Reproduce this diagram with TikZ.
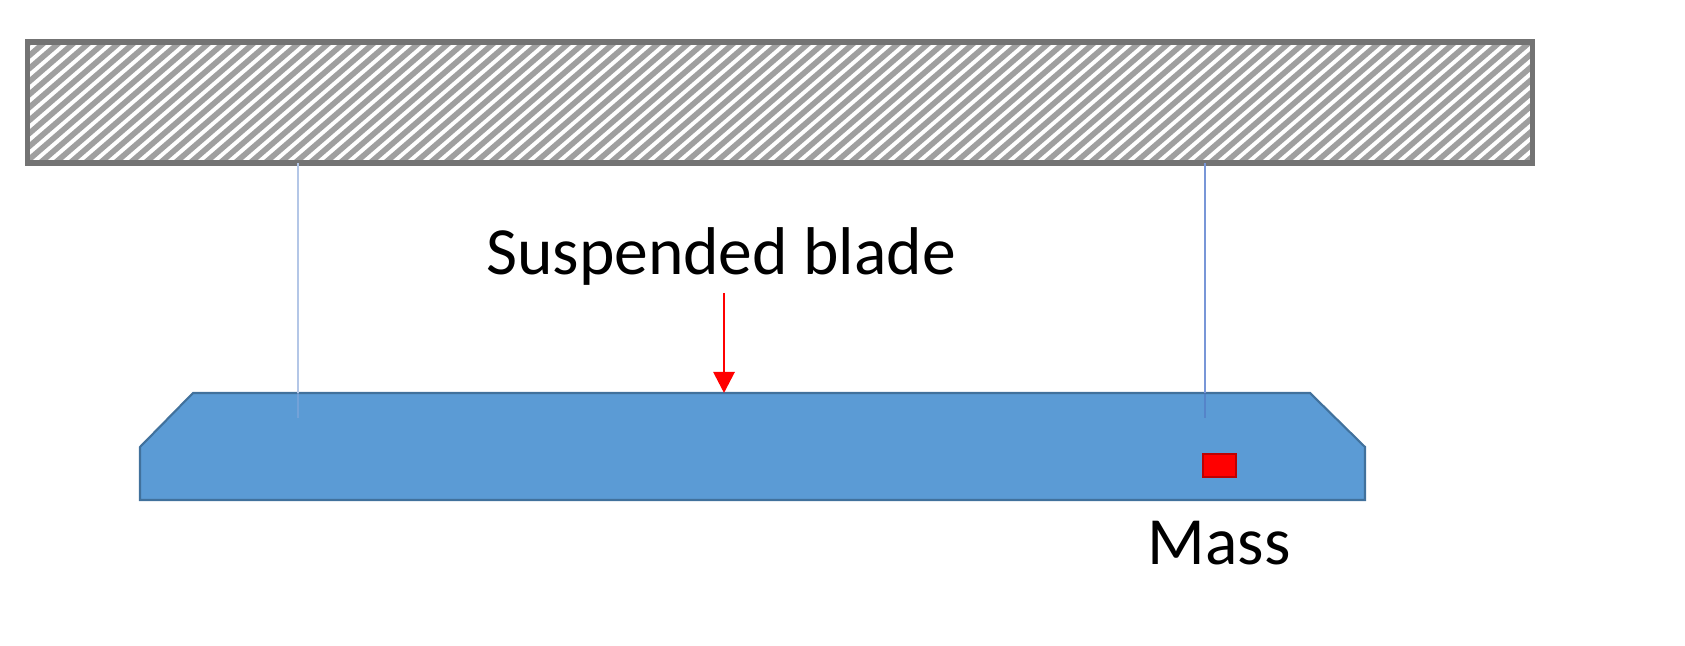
\documentclass[tikz,border=0pt]{standalone}
\usepackage{fontspec}
\setmainfont{Carlito}
\usetikzlibrary{arrows.meta}
\begin{document}
\begin{tikzpicture}[x=0.01cm,y=-0.01cm,
  wire/.style={line width=0.8pt},
  lbl/.style={font=\fontsize{19.2}{22}\selectfont,text=black}]
\useasboundingbox (0,0) rectangle (1685,646);
% ceiling
\begin{scope}
\clip (28,42) rectangle (1532,163);
\foreach \i in {0,...,115}{
  \draw[gray!75,line width=1.6pt] ({\i*15-140},163) -- ({\i*15},42);
}
\end{scope}
\node[draw=gray!110,line width=1.5pt,minimum width=15.04cm,minimum height=1.21cm,inner sep=0] (ceil) at (780,102.5) {};
% blade
\fill[fill={rgb,255:red,91;green,155;blue,213},draw={rgb,255:red,65;green,113;blue,156},line width=0.6pt]
 (193,393) -- (1310,393) -- (1365,447) -- (1365,500) -- (140,500) -- (140,447) -- cycle;
\coordinate (bl) at (298,418);
\coordinate (br) at (1205,418);
\coordinate (cl) at (298,163);
\coordinate (cr) at (1205,163);
\draw[wire,draw={rgb,255:red,180;green,199;blue,231}] (cl) -- (298,393);
\draw[wire,draw={rgb,255:red,140;green,170;blue,220},opacity=0.5] (298,393) -- (bl);
\draw[wire,draw={rgb,255:red,120;green,150;blue,215}] (cr) -- (1205,393);
\draw[wire,draw={rgb,255:red,80;green,110;blue,190},opacity=0.5] (1205,393) -- (br);
% label and arrow
\node[lbl] (sb) at (721,257) {Suspended blade};
\coordinate (top) at (724,393);
\draw[red,line width=0.8pt,-{Triangle[width=6pt,length=6pt]}] (724,293) -- (top);
% mass
\node[draw={rgb,255:red,190;green,0;blue,0},fill=red,minimum width=0.33cm,minimum height=0.23cm,inner sep=0,line width=0.5pt] (m) at (1219.5,465.5) {};
\node[lbl] (ml) at (1219,543) {Mass};
\end{tikzpicture}
\end{document}
